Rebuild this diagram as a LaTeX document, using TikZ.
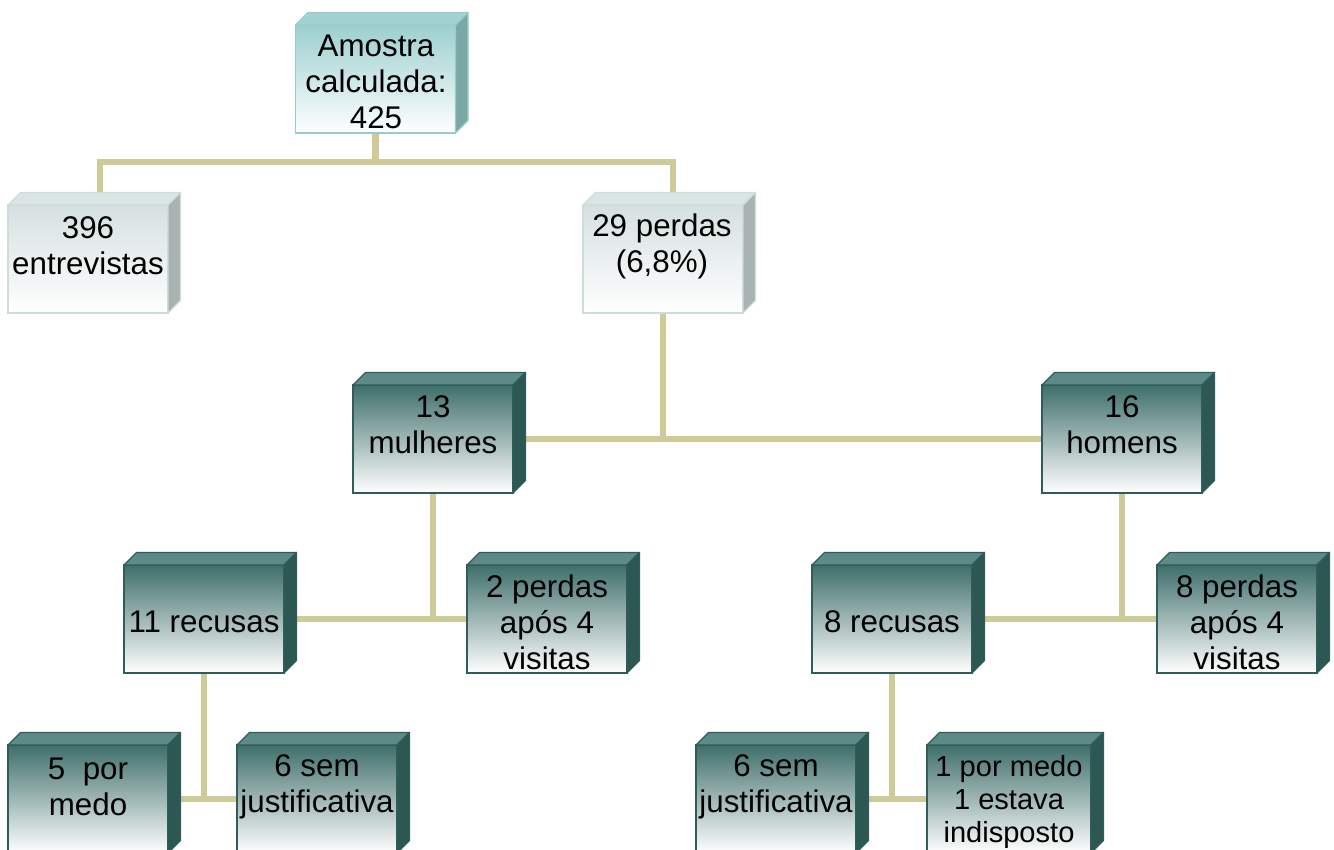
\documentclass[tikz,border=0pt]{standalone}
\usepackage{fontspec}
\setmainfont{Liberation Sans}
\pgfdeclarelayer{bg}
\pgfsetlayers{bg,main}
\definecolor{dkfront}{HTML}{3F6F6B}
\definecolor{dktop}{HTML}{5D8A86}
\definecolor{dkside}{HTML}{2D5753}
\definecolor{dkborder}{HTML}{2F5D59}
\definecolor{ltfront}{HTML}{D6E0E0}
\definecolor{lttop}{HTML}{DCE5E5}
\definecolor{ltside}{HTML}{A9B3B2}
\definecolor{ltborder}{HTML}{CFDCDC}
\definecolor{tlfront}{HTML}{9CCFCF}
\definecolor{tltop}{HTML}{A3D2D1}
\definecolor{tlside}{HTML}{7BA7A5}
\definecolor{tlborder}{HTML}{98CCCC}
\definecolor{connc}{HTML}{CECB99}
\newcommand\dd{12.5}
\newcommand\cubefaces[3]{%
  \filldraw[fill=#2top,draw=#2border,line width=1pt,line join=round] (#1.north west) -- ++(\dd,-\dd) -- ([shift={(\dd,-\dd)}]#1.north east) -- (#1.north east) -- cycle;
  \filldraw[fill=#2side,draw=#2border,line width=1pt,line join=round] (#1.north east) -- ++(\dd,-\dd) -- ([shift={(\dd,-\dd)}]#1.south east) -- (#1.south east) -- cycle;
}
\tikzset{
  boxbase/.style={rectangle, minimum width=120pt, minimum height=81pt, inner sep=0pt, outer sep=0pt, line width=1.2pt, bottom color=white},
  darkbox/.style={boxbase, top color=dkfront, draw=dkborder},
  lightbox/.style={boxbase, top color=ltfront, draw=ltborder},
  tealbox/.style={boxbase, top color=tlfront, draw=tlborder},
  txt/.style={align=center, font=\fontsize{23.5}{27}\selectfont, inner sep=0pt, text=black},
  smalltxt/.style={align=center, font=\fontsize{21.8}{24.6}\selectfont, inner sep=0pt, text=black},
  conn/.style={draw=connc, line width=5pt}
}
\begin{document}
\begin{tikzpicture}[x=0.75pt,y=-0.75pt]
\useasboundingbox (0,0) rectangle (1334,849);
\clip (0,0) rectangle (1334,849);
% boxes
\node[tealbox] (amo) at (375.5,79) {};
\cubefaces{amo}{tl}{}
\node[lightbox] (e396) at (88,259) {};
\cubefaces{e396}{lt}{}
\node[lightbox] (p29) at (663,259) {};
\cubefaces{p29}{lt}{}
\node[darkbox] (mul) at (433,439) {};
\cubefaces{mul}{dk}{}
\node[darkbox] (hom) at (1122,439) {};
\cubefaces{hom}{dk}{}
\node[darkbox] (r11) at (204,619) {};
\cubefaces{r11}{dk}{}
\node[darkbox] (p2) at (547,619) {};
\cubefaces{p2}{dk}{}
\node[darkbox] (r8) at (892,619) {};
\cubefaces{r8}{dk}{}
\node[darkbox] (p8) at (1237,619) {};
\cubefaces{p8}{dk}{}
\node[darkbox] (m5) at (88,799) {};
\cubefaces{m5}{dk}{}
\node[darkbox] (s6) at (317,799) {};
\cubefaces{s6}{dk}{}
\node[darkbox] (s6b) at (776,799) {};
\cubefaces{s6b}{dk}{}
\node[darkbox, minimum width=123pt] (m1) at (1009,799) {};
\cubefaces{m1}{dk}{}
% texts
\node[txt] (tamo) at (376,82) {Amostra\\calculada:\\425};
\node[txt] (te396) at (88,246) {396\\entrevistas};
\node[txt] (tp29) at (662,246) {29 perdas\\(6,8\%)};
\node[txt] (tmul) at (433,425) {13\\mulheres};
\node[txt] (thom) at (1122,425) {16\\homens};
\node[txt] (tr11) at (204,622) {11 recusas};
\node[txt] (tp2) at (547,622) {2 perdas\\após 4\\visitas};
\node[txt] (tr8) at (892,622) {8 recusas};
\node[txt] (tp8) at (1237,622) {8 perdas\\após 4\\visitas};
\node[txt] (tm5) at (88,787) {5~~por\\medo};
\node[txt] (ts6) at (317,787) {6 sem\\justificativa};
\node[txt] (ts6b) at (776,787) {6 sem\\justificativa};
\node[smalltxt] (tm1) at (1009,802) {1 por medo\\1 estava\\indisposto};
% connectors
\begin{pgfonlayer}{bg}
\draw[conn] (amo.south) -- ++(0,29) coordinate (j1);
\draw[conn] ([xshift=9pt]e396.north) |- (j1) -| ([xshift=7.5pt]p29.north);
\draw[conn] (p29.south) -- (p29.south |- mul.east);
\draw[conn] (mul.east) -- (hom.west);
\draw[conn] (mul.south) -- (mul.south |- r11.east);
\draw[conn] (r11.east) -- (p2.west);
\draw[conn] (hom.south) -- (hom.south |- r8.east);
\draw[conn] (r8.east) -- (p8.west);
\draw[conn] (r11.south) -- (r11.south |- m5.east);
\draw[conn] (m5.east) -- (s6.west);
\draw[conn] (r8.south) -- (r8.south |- s6b.east);
\draw[conn] (s6b.east) -- (m1.west);
\end{pgfonlayer}
\end{tikzpicture}
\end{document}
